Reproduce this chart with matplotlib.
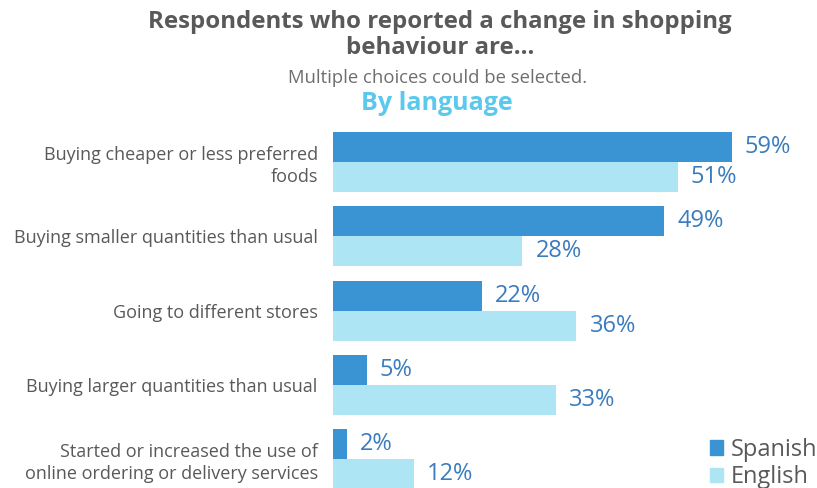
import matplotlib
matplotlib.use("Agg")
import matplotlib.pyplot as plt
from matplotlib.patches import Patch
import numpy as np

categories = [
    "Buying cheaper or less preferred\nfoods",
    "Buying smaller quantities than usual",
    "Going to different stores",
    "Buying larger quantities than usual",
    "Started or increased the use of\nonline ordering or delivery services",
]
spanish = [59, 49, 22, 5, 2]
english = [51, 28, 36, 33, 12]
series_names = ["Spanish", "English"]

c_sp = "#3A94D3"
c_en = "#ADE5F5"
c_lab = "#3A7CBD"
c_txt = "#595959"

plt.rcParams['font.family'] = ['Open Sans', 'DejaVu Sans']

W, H = 817, 488
fig = plt.figure(figsize=(W / 100, H / 100), dpi=100)

left_px, right_px = 333, 806
top_px, bot_px = 120, 488
ax = fig.add_axes([left_px / W, 1 - bot_px / H, (right_px - left_px) / W, (bot_px - top_px) / H])

y = np.arange(len(categories))
h = 0.404
ax.barh(y - h / 2, spanish, height=h, color=c_sp, label=series_names[0])
ax.barh(y + h / 2, english, height=h, color=c_en, label=series_names[1])

for yi, v in zip(y, spanish):
    ax.annotate(f"{v}%", (v, yi - h / 2), xytext=(9.5, 0), textcoords="offset points",
                va="center", ha="left", fontsize=17, color=c_lab)
for yi, v in zip(y, english):
    ax.annotate(f"{v}%", (v, yi + h / 2), xytext=(9.5, 0), textcoords="offset points",
                va="center", ha="left", fontsize=17, color=c_lab)

ax.set_xlim(0, 70)
ax.set_ylim(4.39, -0.566)
ax.set_yticks(y)
ax.set_yticklabels(categories, fontsize=13, color=c_txt, ha="right", linespacing=1.3)
ax.tick_params(axis="y", length=0, pad=11)
ax.set_xticks([])
for s in ax.spines.values():
    s.set_visible(False)

fig.text(440 / W, 1 - 22 / H, "Respondents who reported a change in shopping",
         ha="center", va="center", fontsize=17.3, fontweight="bold", color=c_txt)
fig.text(440 / W, 1 - 48 / H, "behaviour are...",
         ha="center", va="center", fontsize=17.3, fontweight="bold", color=c_txt)
fig.text(438 / W, 1 - 78 / H, "Multiple choices could be selected.",
         ha="center", va="center", fontsize=13.3, color="#6E6E6E")
fig.text(437 / W, 1 - 104 / H, "By language",
         ha="center", va="center", fontsize=18, fontweight="bold", color="#5BC8EE")

handles = [Patch(color=c_sp, label=series_names[0]), Patch(color=c_en, label=series_names[1])]
fig.legend(handles=handles, loc="lower right", bbox_to_anchor=(1.018, -0.032), frameon=False,
           fontsize=17, handlelength=0.55, handleheight=0.55, handletextpad=0.35,
           labelspacing=0.15, labelcolor=c_txt, borderaxespad=0.2)

fig.savefig("out.png", dpi=100)
